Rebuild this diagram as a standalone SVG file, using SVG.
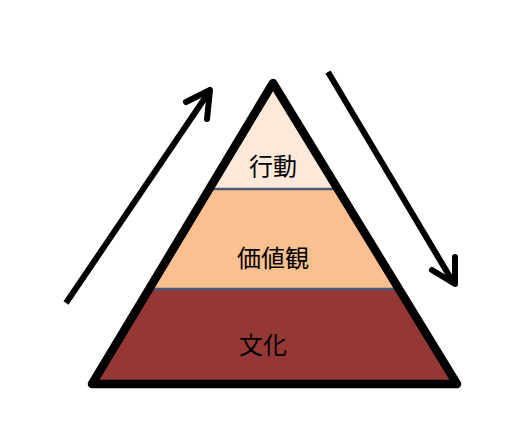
<svg xmlns="http://www.w3.org/2000/svg" width="513" height="431" viewBox="0 0 513 431">
<style>
.lbl{font-family:"Noto Sans CJK JP","Noto Sans CJK SC",sans-serif;font-size:24px;fill:#000;text-anchor:middle;dominant-baseline:central}
.sep{stroke:#4A5A7A;stroke-width:2.5}
.arr{fill:none;stroke:#000;stroke-width:6;stroke-linejoin:round}
</style>
<defs>
<clipPath id="tri"><polygon points="273,83 457,384 92,384"/></clipPath>
</defs>
<rect width="513" height="431" fill="#fff"/>
<g id="pyramid">
<g clip-path="url(#tri)">
<g id="layer-top"><rect x="80" y="70" width="390" height="119" fill="#FDE9D9"/></g>
<g id="layer-middle"><rect x="80" y="189" width="390" height="100" fill="#FAC090"/></g>
<g id="layer-bottom"><rect x="80" y="289" width="390" height="100" fill="#953735"/></g>
<line class="sep" x1="80" y1="189" x2="470" y2="189"/>
<line class="sep" x1="80" y1="289" x2="470" y2="289"/>
</g>
<polygon points="273,83 457,384 92,384" fill="none" stroke="#000" stroke-width="8.5" stroke-linejoin="round"/>
</g>
<g id="labels">
<text class="lbl" x="273" y="164">行動</text>
<text class="lbl" x="273" y="256">価値観</text>
<text class="lbl" x="263" y="343">文化</text>
</g>
<g id="connectors">
<path class="arr" d="M66,303 L209,92" stroke-linecap="butt"/>
<path class="arr" d="M186,102 L210,90 L207,119" stroke-linecap="round"/>
<path class="arr" d="M328,72 L453,282" stroke-linecap="butt"/>
<path class="arr" d="M455,257 L455,284 L432,270" stroke-linecap="round"/>
</g>
</svg>
